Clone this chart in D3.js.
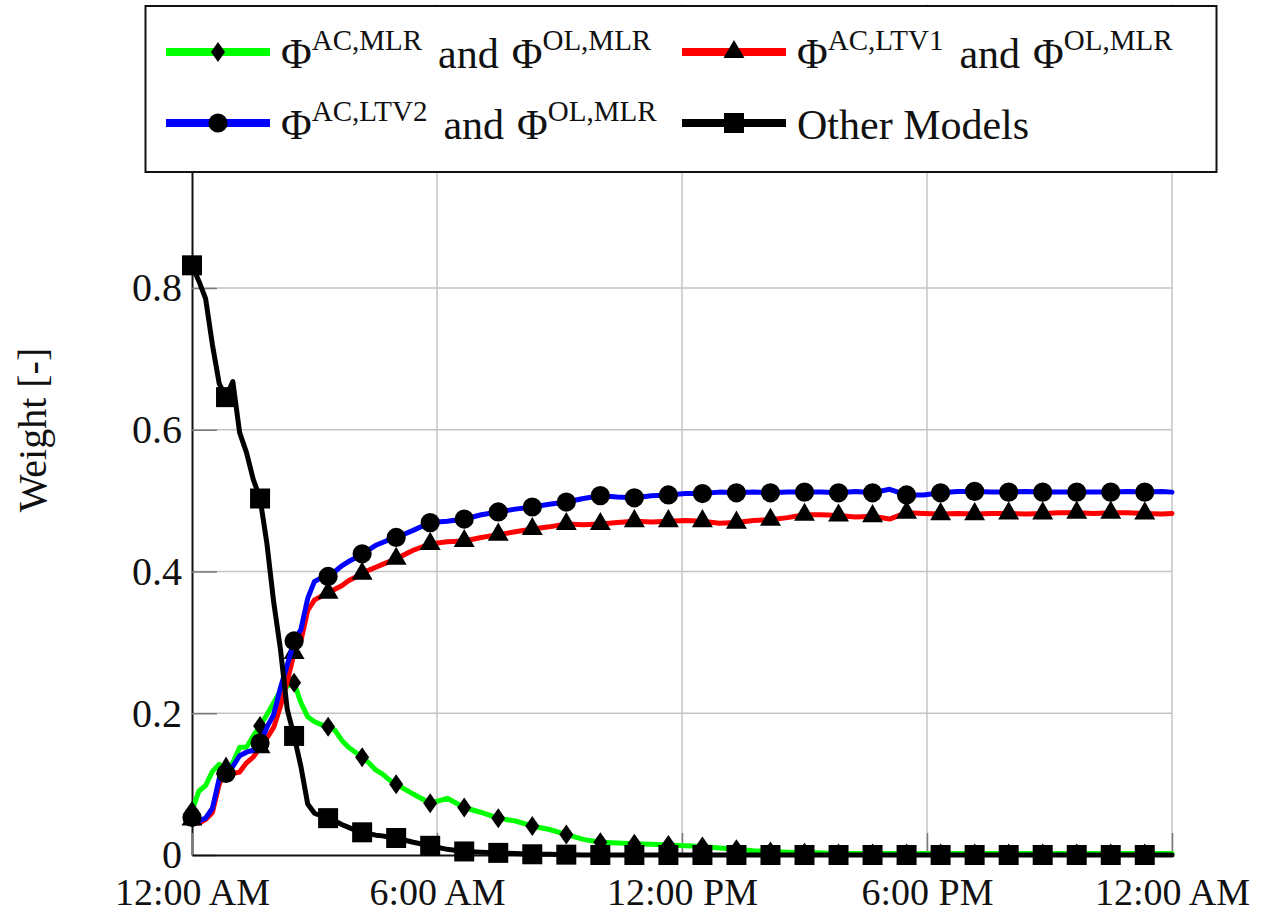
<!DOCTYPE html>
<html>
<head>
<meta charset="utf-8">
<script src="https://cdn.jsdelivr.net/npm/d3@7"></script>
<style>
  html, body { margin: 0; padding: 0; background: #fff; }
  svg { display: block; }
</style>
</head>
<body>
<svg id="chart" width="1261" height="913"></svg>
<script>
// Sample times, minutes after midnight
const minutes = [
  0, 10, 20, 30, 40, 50, 60, 70, 80, 90,
  100, 110, 120, 130, 140, 150, 160, 170, 180, 190,
  200, 210, 220, 230, 240, 250, 260, 270, 280, 290,
  300,
  325, 350, 375, 400, 425, 450, 475, 500, 525, 550,
  575, 600, 625, 650, 675, 700, 725, 750, 775, 800,
  825, 850, 875, 900, 925, 950, 975, 1000, 1025, 1050,
  1075, 1100, 1125, 1150, 1175, 1200, 1225, 1250, 1275, 1300,
  1325, 1350, 1375, 1400, 1425,
  1440
];

// Weight of Φ^{AC,MLR} and Φ^{OL,MLR}
const weightsMLR = [
  0.062, 0.090, 0.098, 0.118, 0.128, 0.118, 0.130, 0.152, 0.152, 0.168,
  0.182, 0.198, 0.215, 0.232, 0.238, 0.243, 0.215, 0.195, 0.188, 0.184,
  0.181, 0.176, 0.162, 0.152, 0.145, 0.138, 0.130, 0.120, 0.114, 0.106,
  0.100,
  0.086, 0.073, 0.080, 0.067, 0.060, 0.052, 0.048, 0.041, 0.036, 0.029,
  0.022, 0.018, 0.017, 0.016, 0.015, 0.014, 0.013, 0.012, 0.010, 0.008,
  0.006, 0.005, 0.004, 0.003, 0.003, 0.002, 0.002, 0.002, 0.002, 0.002,
  0.002, 0.002, 0.002, 0.002, 0.002, 0.002, 0.002, 0.002, 0.002, 0.002,
  0.002, 0.002, 0.002, 0.002, 0.002,
  0.002
];

// Weight of Φ^{AC,LTV1} and Φ^{OL,MLR}
const weightsLTV1 = [
  0.050, 0.045, 0.050, 0.060, 0.100, 0.122, 0.115, 0.117, 0.130, 0.138,
  0.152, 0.165, 0.180, 0.210, 0.245, 0.285, 0.302, 0.345, 0.360, 0.365,
  0.370, 0.375, 0.380, 0.387, 0.392, 0.397, 0.402, 0.406, 0.410, 0.414,
  0.418,
  0.430, 0.439, 0.442, 0.443, 0.448, 0.452, 0.456, 0.460, 0.463, 0.467,
  0.466, 0.467, 0.469, 0.471, 0.470, 0.471, 0.472, 0.471, 0.468, 0.469,
  0.472, 0.473, 0.476, 0.480, 0.480, 0.479, 0.477, 0.478, 0.474, 0.483,
  0.482, 0.481, 0.482, 0.481, 0.482, 0.482, 0.481, 0.482, 0.483, 0.483,
  0.482, 0.483, 0.483, 0.482, 0.481,
  0.482
];

// Weight of Φ^{AC,LTV2} and Φ^{OL,MLR}
const weightsLTV2 = [
  0.053, 0.048, 0.052, 0.066, 0.108, 0.115, 0.125, 0.140, 0.145, 0.148,
  0.158, 0.180, 0.198, 0.236, 0.268, 0.302, 0.318, 0.362, 0.386, 0.391,
  0.393, 0.400, 0.408, 0.414, 0.419, 0.425, 0.431, 0.437, 0.441, 0.445,
  0.448,
  0.458, 0.469, 0.471, 0.474, 0.480, 0.484, 0.488, 0.491, 0.495, 0.498,
  0.503, 0.507, 0.505, 0.504, 0.507, 0.508, 0.510, 0.510, 0.512, 0.511,
  0.512, 0.511, 0.512, 0.512, 0.512, 0.511, 0.513, 0.511, 0.516, 0.508,
  0.508, 0.511, 0.513, 0.513, 0.512, 0.512, 0.513, 0.512, 0.512, 0.512,
  0.512, 0.512, 0.513, 0.512, 0.513,
  0.512
];

// Combined weight of all other models
const weightsOther = [
  0.832, 0.810, 0.785, 0.720, 0.665, 0.646, 0.668, 0.596, 0.568, 0.530,
  0.503, 0.440, 0.357, 0.290, 0.205, 0.168, 0.125, 0.072, 0.059, 0.055,
  0.052, 0.048, 0.043, 0.039, 0.035, 0.032, 0.030, 0.028, 0.027, 0.025,
  0.024,
  0.018, 0.013, 0.008, 0.005, 0.004, 0.003, 0.002, 0.001, 0.001, 0.0005,
  0, 0, 0, 0, 0, 0, 0, 0, 0, 0,
  0, 0, 0, 0, 0, 0, 0, 0, 0, 0,
  0, 0, 0, 0, 0, 0, 0, 0, 0, 0,
  0, 0, 0, 0, 0,
  0
];

const timeTicks = [0, 6, 12, 18, 24];
const timeTickLabels = ["12:00 AM", "6:00 AM", "12:00 PM", "6:00 PM", "12:00 AM"];
const weightTicks = [0, 0.2, 0.4, 0.6, 0.8, 1.0];
const weightTickLabels = ["0", "0.2", "0.4", "0.6", "0.8", "1"];
const yAxisTitle = "Weight [-]";

// a marker is placed every 50 minutes
const markEvery = 50;

const serif = "'Liberation Serif', 'Times New Roman', Times, serif";

// Tall narrow diamond marker
const narrowDiamond = {
  draw(context, size) {
    const h = Math.sqrt(size / 1.4), w = h * 0.7;
    context.moveTo(0, -h);
    context.lineTo(w, 0);
    context.lineTo(0, h);
    context.lineTo(-w, 0);
    context.closePath();
  }
};

const series = [
  { values: weightsMLR,   color: "#00ff00", symbol: narrowDiamond,      size: 140,
    label: [["Φ", "AC,MLR"], ["Φ", "OL,MLR"]] },
  { values: weightsLTV1,  color: "#ff0000", symbol: d3.symbolTriangle,  size: 190,
    label: [["Φ", "AC,LTV1"], ["Φ", "OL,MLR"]] },
  { values: weightsLTV2,  color: "#0000ff", symbol: d3.symbolCircle,    size: 290,
    label: [["Φ", "AC,LTV2"], ["Φ", "OL,MLR"]] },
  { values: weightsOther, color: "#000000", symbol: d3.symbolSquare,    size: 400,
    label: "Other Models" }
];

const svg = d3.select("#chart");
const x = d3.scaleLinear().domain([0, 24]).range([192, 1172]);
const y = d3.scaleLinear().domain([0, 1.2]).range([855, 4.5]);

// Grid
const grid = svg.append("g").attr("class", "grid");
grid.selectAll("line.hgrid")
  .data(weightTicks.filter(v => v > 0))
  .join("line")
  .attr("class", "hgrid")
  .attr("x1", x(0)).attr("x2", x(24))
  .attr("y1", d => y(d)).attr("y2", d => y(d))
  .attr("stroke", "#c4c4c4").attr("stroke-width", 1.5);
grid.selectAll("line.vgrid")
  .data(timeTicks.filter(t => t > 0))
  .join("line")
  .attr("class", "vgrid")
  .attr("x1", d => x(d)).attr("x2", d => x(d))
  .attr("y1", y(0)).attr("y2", y(1.2))
  .attr("stroke", "#c4c4c4").attr("stroke-width", 1.5);

// Axes
const yAxis = d3.axisLeft(y)
  .tickValues(weightTicks)
  .tickFormat((d, i) => weightTickLabels[i])
  .tickSizeInner(-25)
  .tickSizeOuter(0)
  .tickPadding(10);
const gy = svg.append("g").attr("transform", `translate(${x(0)},0)`).call(yAxis);
gy.attr("font-size", 40);

const xAxis = d3.axisBottom(x)
  .tickValues(timeTicks)
  .tickFormat((d, i) => timeTickLabels[i])
  .tickSizeInner(-22)
  .tickSizeOuter(0)
  .tickPadding(23);
const gx = svg.append("g").attr("transform", `translate(0,${y(0)})`).call(xAxis);
gx.attr("font-size", 38);

[gx, gy].forEach(g => {
  g.attr("font-family", serif);
  g.selectAll("text").attr("fill", "#111");
  g.selectAll(".tick line").attr("stroke", "#7a7a7a").attr("stroke-width", 1.5);
  g.select(".domain").attr("stroke", "#111").attr("stroke-width", 2);
});

// Axis title
svg.append("text")
  .attr("transform", "translate(46,430) rotate(-90)")
  .attr("text-anchor", "middle")
  .attr("font-family", serif)
  .attr("font-size", 40)
  .attr("fill", "#111")
  .text(yAxisTitle);

// Series lines and markers
const line = d3.line()
  .x(d => x(d.t / 60))
  .y(d => y(d.v));

const plots = svg.append("g").attr("class", "plots");
series.forEach(s => {
  const pts = minutes.map((t, i) => ({ t, v: s.values[i] }));
  const g = plots.append("g");
  g.append("path")
    .datum(pts)
    .attr("fill", "none")
    .attr("stroke", s.color)
    .attr("stroke-width", 5)
    .attr("stroke-linejoin", "round")
    .attr("stroke-linecap", "round")
    .attr("d", line);
  g.selectAll("path.mark")
    .data(pts.filter(p => p.t % markEvery === 0 && p.t <= 1400))
    .join("path")
    .attr("class", "mark")
    .attr("transform", p => `translate(${x(p.t / 60)},${y(p.v)})`)
    .attr("d", d3.symbol().type(s.symbol).size(s.size))
    .attr("fill", "#000");
});

// Legend
const legend = svg.append("g").attr("class", "legend");
legend.append("rect")
  .attr("x", 145.5).attr("y", 6)
  .attr("width", 1071).attr("height", 166)
  .attr("fill", "#fff")
  .attr("stroke", "#111").attr("stroke-width", 2);

const legendCols = [166, 682];
const legendRows = [52, 123];
series.forEach((s, i) => {
  const lx = legendCols[i % 2];
  const ly = legendRows[Math.floor(i / 2)];
  legend.append("line")
    .attr("x1", lx).attr("x2", lx + 104)
    .attr("y1", ly).attr("y2", ly)
    .attr("stroke", s.color).attr("stroke-width", 8);
  legend.append("path")
    .attr("transform", `translate(${lx + 52},${ly})`)
    .attr("d", d3.symbol().type(s.symbol).size(s.size))
    .attr("fill", "#000");

  const txt = legend.append("text")
    .attr("x", lx + 115)
    .attr("y", ly + 16)
    .attr("font-family", serif)
    .attr("font-size", 42)
    .attr("fill", "#111");
  if (typeof s.label === "string") {
    txt.text(s.label);
  } else {
    const [first, second] = s.label;
    txt.append("tspan").text(first[0]);
    txt.append("tspan").attr("font-size", 29).attr("dy", -18).text(first[1]);
    txt.append("tspan").attr("dy", 18).attr("dx", 16).text("and");
    txt.append("tspan").attr("dx", 13).text(second[0]);
    txt.append("tspan").attr("font-size", 29).attr("dy", -18).text(second[1]);
  }
});
</script>
</body>
</html>
